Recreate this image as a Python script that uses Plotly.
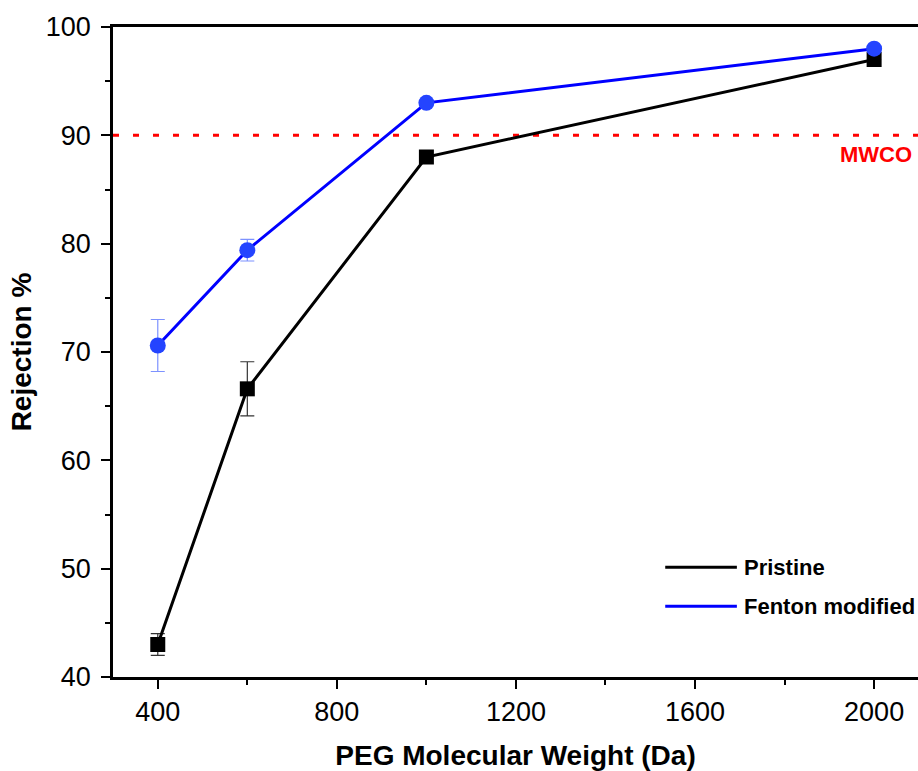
import plotly.graph_objects as go

peg_mw = [400, 600, 1000, 2000]
series_names = ["Pristine", "Fenton modified"]
pristine = [43.0, 66.6, 88.0, 97.0]
pristine_err = [1.0, 2.5, 0, 0]
fenton = [70.6, 79.4, 93.0, 98.0]
fenton_err = [2.4, 1.0, 0, 0]
mwco_value = 90
mwco_label = "MWCO"

FONT = "Arial, Liberation Sans, sans-serif"

fig = go.Figure()

# MWCO reference line
fig.add_shape(type="line", xref="paper", x0=0, x1=1, yref="y", y0=mwco_value, y1=mwco_value,
              line=dict(color="#ff0000", width=3, dash="6px,14px"), layer="below")

fig.add_trace(go.Scatter(
    x=peg_mw, y=pristine, mode="lines+markers", name=series_names[0],
    line=dict(color="black", width=3),
    marker=dict(symbol="square", size=15, color="black"),
    error_y=dict(type="data", array=pristine_err, visible=True, color="#333333", thickness=1.2, width=7),
    showlegend=False,
))
fig.add_trace(go.Scatter(
    x=peg_mw, y=fenton, mode="lines+markers", name=series_names[1],
    line=dict(color="#0000ff", width=3),
    marker=dict(symbol="circle", size=16, color="#2444ff"),
    error_y=dict(type="data", array=fenton_err, visible=True, color="rgba(70,100,255,0.7)", thickness=1.2, width=7),
    showlegend=False,
))

# Manual legend (line samples only)
legend_items = [(series_names[0], "black", 0.169), (series_names[1], "#0000ff", 0.109)]
for name, col, yp in legend_items:
    fig.add_shape(type="line", xref="paper", yref="paper", x0=0.686, x1=0.775, y0=yp, y1=yp,
                  line=dict(color=col, width=3))
    fig.add_annotation(xref="paper", yref="paper", x=0.781, y=yp, text="<b>%s</b>" % name,
                       showarrow=False, xanchor="left", yanchor="middle",
                       font=dict(family=FONT, size=22, color="black"))

fig.add_annotation(x=2090, y=88.2, xref="x", yref="y", text="<b>%s</b>" % mwco_label,
                   showarrow=False, xanchor="right", yanchor="middle",
                   font=dict(family=FONT, size=22, color="#ff0000"))

fig.update_layout(
    width=918, height=771,
    margin=dict(l=113, r=0, t=27, b=94),
    paper_bgcolor="white", plot_bgcolor="white",
    font=dict(family=FONT, size=27, color="black"),
    xaxis=dict(
        range=[300, 2098], tickvals=[400, 800, 1200, 1600, 2000],
        showgrid=False, zeroline=False,
        showline=True, linecolor="black", linewidth=2.5, mirror=True,
        ticks="outside", ticklen=9, tickwidth=2, tickcolor="black",
        minor=dict(dtick=200, tick0=0, ticks="outside", ticklen=5, tickwidth=2, tickcolor="black"),
        title=dict(text="<b>PEG Molecular Weight (Da)</b>", font=dict(size=28), standoff=21),
        tickfont=dict(size=27),
    ),
    yaxis=dict(
        range=[40, 100], tickvals=[40, 50, 60, 70, 80, 90, 100],
        showgrid=False, zeroline=False,
        showline=True, linecolor="black", linewidth=2.5,
        ticks="outside", ticklen=9, tickwidth=2, tickcolor="black",
        ticklabelstandoff=5,
        minor=dict(dtick=5, tick0=0, ticks="outside", ticklen=5, tickwidth=2, tickcolor="black"),
        title=dict(text="<b>Rejection %</b>", font=dict(size=28), standoff=6),
        tickfont=dict(size=27),
    ),
)

fig.write_html(
    "out.html",
    config={"displayModeBar": False},
    post_script="document.body.style.margin='0';document.body.style.overflow='hidden';"
                "document.documentElement.style.overflow='hidden';",
)
